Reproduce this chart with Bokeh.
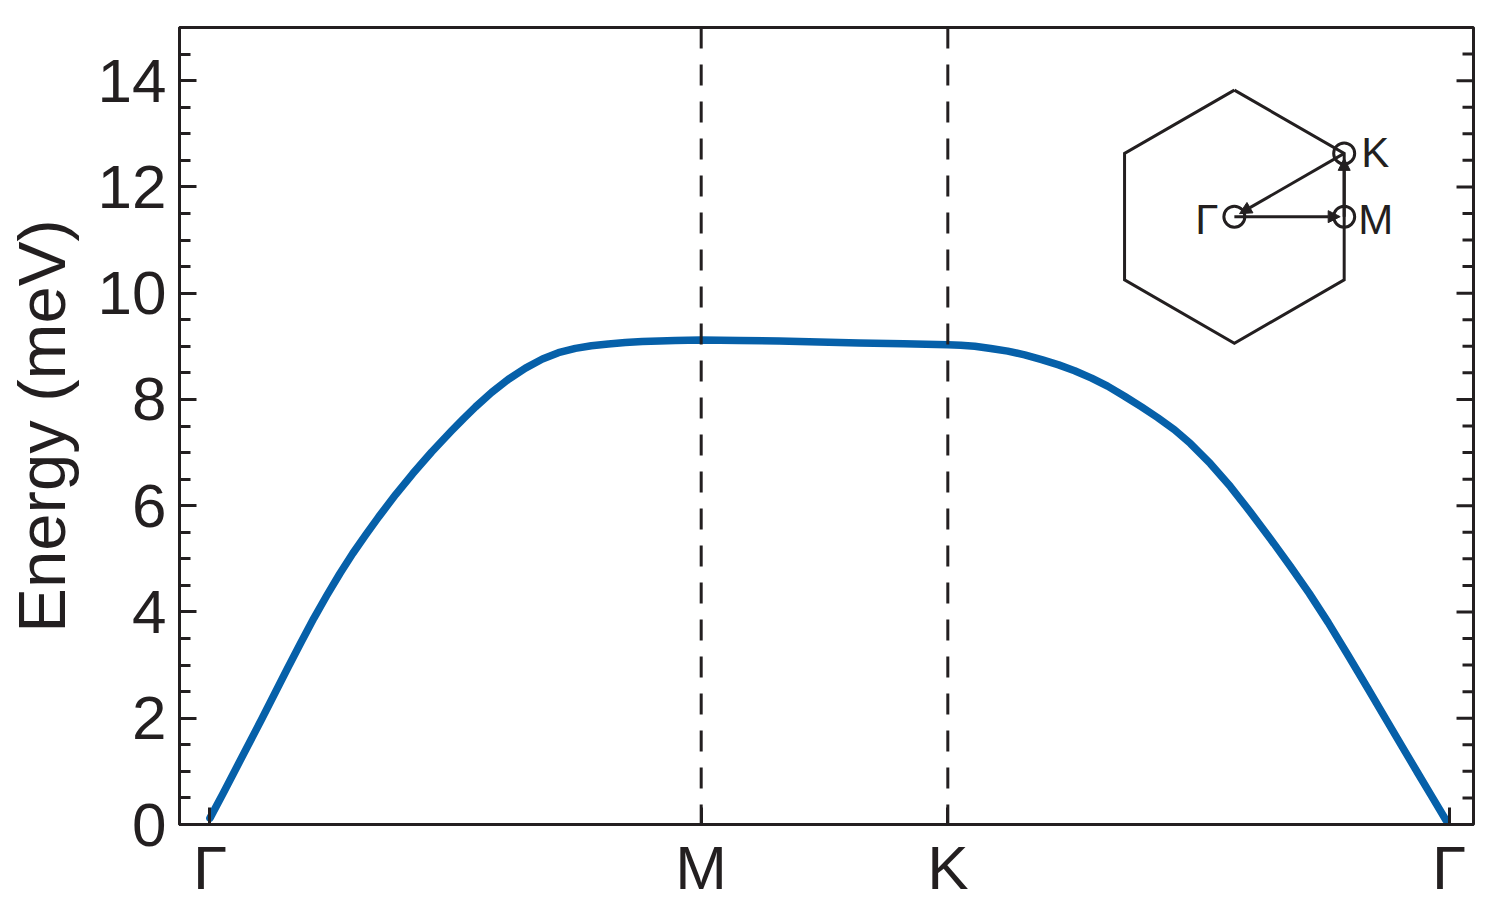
import numpy as np
from bokeh.plotting import figure
from bokeh.models import Range1d, SingleIntervalTicker, FixedTicker, Span, Arrow, NormalHead
from bokeh.core.properties import value
from bokeh.embed import file_html
from bokeh.resources import INLINE

# ---------------- data ----------------
# high-symmetry points along the path (path-length units)
kpoint_pos = [0, 492, 739, 1241]
kpoint_labels = ["Γ", "M", "K", "Γ"]

# path coordinate and magnon energy (meV)
k_path = [0, 13, 26, 39, 52, 65, 78, 91, 104, 117, 130, 143, 156, 169, 186, 203, 222, 242,
          254, 266, 282, 299, 316, 333, 349, 366, 382, 399, 416, 433, 450, 466, 492,
          530, 570, 610, 650, 695, 739,
          752, 766, 782, 799, 816, 833, 850, 866, 883, 899, 916, 933, 949, 966, 982, 1002,
          1022, 1042, 1062, 1082, 1101, 1120, 1140, 1160, 1176, 1193, 1210, 1224, 1238]
energy = [0.12, 0.58, 1.05, 1.52, 1.99, 2.47, 2.95, 3.42, 3.88, 4.31, 4.72, 5.10, 5.45, 5.79,
          6.21, 6.60, 7.01, 7.41, 7.64, 7.86, 8.13, 8.38, 8.59, 8.76, 8.88, 8.96, 9.01, 9.045,
          9.07, 9.09, 9.10, 9.11, 9.12,
          9.11, 9.10, 9.08, 9.06, 9.05, 9.03,
          9.02, 9.0, 8.96, 8.91, 8.84, 8.75, 8.65, 8.54, 8.40, 8.25, 8.06, 7.86, 7.66, 7.43,
          7.17, 6.79, 6.36, 5.88, 5.38, 4.86, 4.35, 3.80, 3.18, 2.55, 2.04, 1.50, 0.96, 0.52,
          0.08]

y_ticks_major = 2
y_label = "Energy (meV)"
inset_labels = ["K", "M", "Γ"]

# ---------------- style ----------------
INK = "#231f20"
BLUE = "#0660a9"
FONT = "Liberation Sans"

X0, X1 = -30.5, 1265.5
Y0, Y1 = 0, 15
FRAME_W, FRAME_H = 1296, 800
sx = FRAME_W / (X1 - X0)   # px per x unit
sy = FRAME_H / (Y1 - Y0)   # px per y unit

p = figure(width=1488, height=904, x_range=Range1d(X0, X1), y_range=Range1d(Y0, Y1),
           output_backend="svg", toolbar_location=None,
           min_border_left=177, min_border_right=15, min_border_top=27, min_border_bottom=77)
p.grid.visible = False
p.outline_line_color = INK
p.outline_line_width = 3
p.background_fill_color = "white"
p.border_fill_color = "white"

# y axis
yax = p.yaxis[0]
yax.ticker = SingleIntervalTicker(interval=y_ticks_major, num_minor_ticks=4)
yax.axis_label = y_label
yax.axis_label_text_font = FONT
yax.axis_label_text_font_size = "67px"
yax.axis_label_text_font_style = "normal"
yax.axis_label_text_color = INK
yax.axis_label_standoff = 16
yax.major_label_text_font = FONT
yax.major_label_text_font_size = "62px"
yax.major_label_text_color = INK
yax.major_label_standoff = 13
yax.axis_line_color = INK
yax.axis_line_width = 3
yax.major_tick_in = 17
yax.major_tick_out = 0
yax.minor_tick_in = 11
yax.minor_tick_out = 0
yax.major_tick_line_width = 3
yax.minor_tick_line_width = 3
yax.major_tick_line_color = INK
yax.minor_tick_line_color = INK

# mirrored ticks on the right edge (same tick positions as the left axis)
minor_step = y_ticks_major / 4
tick_vals = np.arange(Y0, Y1 + 1e-9, minor_step)
is_major = np.isclose(np.mod(tick_vals, y_ticks_major), 0)
tick_len = np.where(is_major, 17, 11) / sx
p.segment(x0=X1 - tick_len, y0=tick_vals, x1=np.full_like(tick_vals, X1), y1=tick_vals,
          line_color=INK, line_width=3)

# x axis
xax = p.xaxis[0]
xax.ticker = FixedTicker(ticks=kpoint_pos, minor_ticks=[])
xax.major_label_overrides = {k: lab for k, lab in zip(kpoint_pos, kpoint_labels)}
xax.major_label_text_font = FONT
xax.major_label_text_font_size = "62px"
xax.major_label_text_color = INK
xax.major_label_standoff = 8
xax.axis_line_color = INK
xax.axis_line_width = 3
xax.major_tick_in = 17
xax.major_tick_out = 0
xax.major_tick_line_width = 3
xax.major_tick_line_color = INK
xax.minor_tick_line_color = None

# dashed lines at M and K
for xk in kpoint_pos[1:3]:
    p.add_layout(Span(location=xk, dimension="height", line_color=INK, line_width=3,
                      line_dash="21 16"))

# dispersion curve
p.line(k_path, energy, line_color=BLUE, line_width=7.5, line_cap="round", line_join="round")

# ---------------- inset: hexagonal Brillouin zone ----------------
cx, cy = 1026.0, 11.44     # inset centre (Γ), data units
R = 127.0                  # hexagon radius, px
ang = np.deg2rad([90, 150, 210, 270, 330, 30, 90])
hx = cx + R * np.cos(ang) / sx
hy = cy + R * np.sin(ang) / sy
p.line(hx, hy, line_color=INK, line_width=3, line_join="miter")

G = (cx, cy)
M = (cx + R * np.cos(np.deg2rad(30)) / sx, cy)
K = (cx + R * np.cos(np.deg2rad(30)) / sx, cy + R * np.sin(np.deg2rad(30)) / sy)


def short_end(a, b, gap_px):
    dx, dy = (b[0] - a[0]) * sx, (b[1] - a[1]) * sy
    L = np.hypot(dx, dy)
    f = (L - gap_px) / L
    return a[0] + (b[0] - a[0]) * f, a[1] + (b[1] - a[1]) * f


for a, b, gap in [(G, M, 4), (M, K, 5), (K, G, 6)]:
    ex, ey = short_end(a, b, gap)
    p.add_layout(Arrow(x_start=a[0], y_start=a[1], x_end=ex, y_end=ey,
                       line_color=INK, line_width=3,
                       end=NormalHead(size=12, fill_color=INK, line_color=INK, line_width=1)))

p.scatter([G[0], M[0], K[0]], [G[1], M[1], K[1]], marker="circle", size=21,
          fill_color=None, line_color=INK, line_width=3)

p.text([K[0], M[0]], [K[1], M[1]], text=inset_labels[:2], x_offset=[17, 14], y_offset=[-1, 3],
       text_font=value(FONT), text_font_size="42px", text_color=INK,
       text_align="left", text_baseline="middle")
p.text([G[0]], [G[1]], text=inset_labels[2:], x_offset=-16, y_offset=3,
       text_font=value(FONT), text_font_size="42px", text_color=INK,
       text_align="right", text_baseline="middle")

open("out.html", "w").write(file_html(p, INLINE))
